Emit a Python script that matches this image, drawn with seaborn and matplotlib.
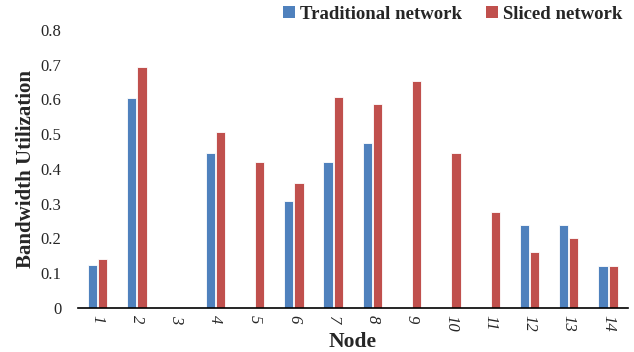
import matplotlib
matplotlib.use("Agg")
import matplotlib.pyplot as plt
import seaborn as sns
import pandas as pd
from matplotlib.patches import Patch

nodes = [str(i) for i in range(1, 15)]
traditional = [0.124, 0.605, 0.0, 0.447, 0.0, 0.307, 0.42, 0.474, 0.0, 0.0, 0.0, 0.24, 0.24, 0.12]
sliced = [0.142, 0.693, 0.0, 0.506, 0.421, 0.36, 0.607, 0.587, 0.652, 0.447, 0.275, 0.161, 0.2, 0.12]
series_names = ["Traditional network", "Sliced network"]
colors = ["#4F81BD", "#C0504D"]
y_ticks = [0, 0.1, 0.2, 0.3, 0.4, 0.5, 0.6, 0.7, 0.8]

df = pd.DataFrame({
    "Node": nodes * 2,
    "Value": traditional + sliced,
    "Series": [series_names[0]] * len(nodes) + [series_names[1]] * len(nodes),
})

sns.set_theme(style="white")
plt.rcParams["font.family"] = ["Liberation Serif", "DejaVu Serif"]

fig = plt.figure(figsize=(6.34, 3.52), dpi=100)
ax = fig.add_axes([0.123, 0.125, 0.867, 0.79])

sns.barplot(data=df, x="Node", y="Value", hue="Series", order=nodes,
            hue_order=series_names, palette=colors, width=0.52, gap=0.1,
            edgecolor="white", linewidth=0.6, saturation=1, legend=False, ax=ax)

ax.set_ylim(0, 0.8)
ax.set_xlim(-0.5, len(nodes) - 0.5)
ax.set_yticks(y_ticks)
ax.set_yticklabels(["0"] + [f"{v:.1f}" for v in y_ticks[1:]], fontsize=12)
ax.tick_params(axis="y", length=0, pad=12)
ax.tick_params(axis="x", length=0, pad=5)
for lbl in ax.get_xticklabels():
    lbl.set_rotation(270)
    lbl.set_fontstyle("italic")
    lbl.set_fontsize(12)

for side in ["top", "right", "left"]:
    ax.spines[side].set_visible(False)
ax.spines["bottom"].set_color("black")
ax.spines["bottom"].set_linewidth(1.2)

ax.set_xlabel("Node", fontsize=15.5, fontweight="bold", labelpad=0)
ax.set_ylabel("Bandwidth Utilization", fontsize=15, fontweight="bold", labelpad=3)

handles = [Patch(facecolor=c, edgecolor="none") for c in colors]
fig.legend(handles, series_names, loc="center right", bbox_to_anchor=(1.008, 0.96),
           ncol=2, frameon=False, prop={"weight": "bold", "size": 13.5},
           handlelength=0.65, handleheight=0.65, handletextpad=0.25, columnspacing=1.3)

fig.savefig("out.png", dpi=100)
